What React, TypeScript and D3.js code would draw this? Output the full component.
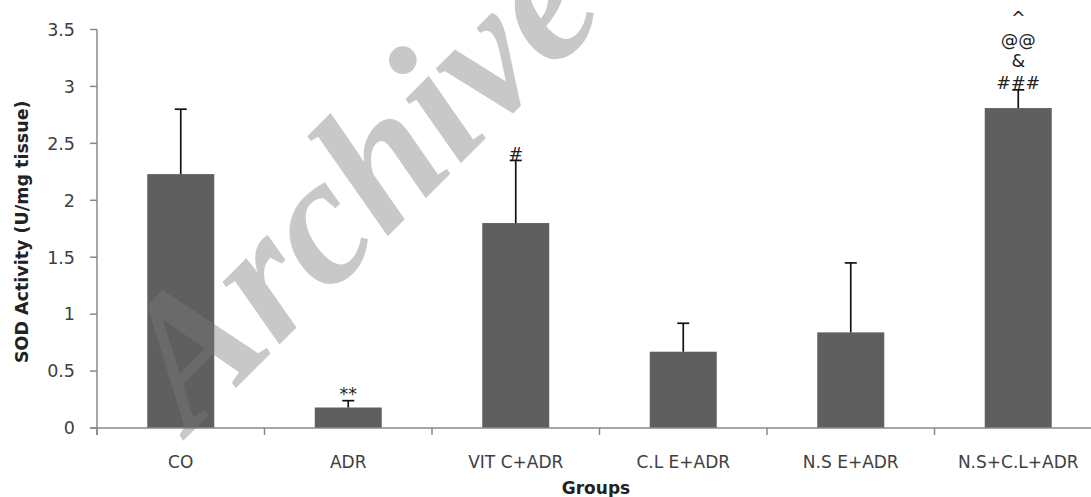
import React from "react";
import * as d3 from "d3";

// SOD activity per treatment group (mean and upper error value)
const groups = ["CO", "ADR", "VIT C+ADR", "C.L E+ADR", "N.S E+ADR", "N.S+C.L+ADR"];
const means = [2.23, 0.18, 1.8, 0.67, 0.84, 2.81];
const upperError = [2.8, 0.24, 2.35, 0.92, 1.45, 2.97];
// significance marks stacked above each error bar, listed bottom to top
const marks = [[], ["**"], ["#"], [], [], ["###", "&", "@@", "^"]];
const yTicks = [0, 0.5, 1, 1.5, 2, 2.5, 3, 3.5];

const W = 1091;
const H = 497;
const left = 97;
const right = 1102;
const top = 29.5;
const bottom = 428;

const FONT = "'DejaVu Sans', Verdana, sans-serif";

export default function App() {
  const x = d3.scaleBand<string>().domain(groups).range([left, right]).paddingInner(0.6).paddingOuter(0.3);
  const y = d3.scaleLinear().domain([0, 3.5]).range([bottom, top]);
  const step = x.step();
  const bw = x.bandwidth();
  const boundaries = d3.range(groups.length + 1).map((i) => left + i * step);

  return (
    <svg width={W} height={H} style={{ position: "absolute", left: 0, top: 0, background: "#fff" }}>
      {/* bars */}
      {groups.map((g, i) => (
        <rect key={g} x={x(g)} y={y(means[i])} width={bw} height={bottom - y(means[i])} fill="#5f5f5f" />
      ))}
      {/* error bars */}
      {groups.map((g, i) => {
        const cx = (x(g) as number) + bw / 2;
        return (
          <g key={g} stroke="#111" strokeWidth={1.7}>
            <line x1={cx} x2={cx} y1={y(means[i])} y2={y(upperError[i])} />
            <line x1={cx - 6} x2={cx + 6} y1={y(upperError[i])} y2={y(upperError[i])} />
          </g>
        );
      })}
      {/* significance marks */}
      {groups.map((g, i) => {
        const cx = (x(g) as number) + bw / 2;
        return marks[i].map((m, k) => (
          <text
            key={g + k}
            x={cx}
            y={y(upperError[i]) - 7 - k * 21.5}
            dy="0.35em"
            textAnchor="middle"
            fontFamily={FONT}
            fontSize={17.5}
            fill="#222"
          >
            {m}
          </text>
        ));
      })}
      {/* y axis */}
      <line x1={left} x2={left} y1={top} y2={bottom + 7} stroke="#888" strokeWidth={1.5} />
      {yTicks.map((t) => (
        <g key={t}>
          <line x1={left - 7} x2={left} y1={y(t)} y2={y(t)} stroke="#888" strokeWidth={1.5} />
          <text x={75} y={y(t)} dy="0.36em" textAnchor="end" fontFamily={FONT} fontSize={17.5} fill="#404040">
            {t}
          </text>
        </g>
      ))}
      {/* x axis */}
      <line x1={left - 7} x2={right} y1={bottom} y2={bottom} stroke="#888" strokeWidth={1.5} />
      {boundaries.map((bx, i) => (
        <line key={i} x1={bx} x2={bx} y1={bottom} y2={bottom + 7} stroke="#888" strokeWidth={1.5} />
      ))}
      {groups.map((g) => (
        <text
          key={g}
          x={(x(g) as number) + bw / 2}
          y={468}
          textAnchor="middle"
          fontFamily={FONT}
          fontSize={17}
          fill="#404040"
        >
          {g}
        </text>
      ))}
      {/* axis titles */}
      <text x={596} y={494} textAnchor="middle" fontFamily={FONT} fontWeight="bold" fontSize={17} fill="#222">
        Groups
      </text>
      <text
        transform={`translate(22, ${(top + bottom) / 2 + 3}) rotate(-90)`}
        dy="0.35em"
        textAnchor="middle"
        fontFamily={FONT}
        fontWeight="bold"
        fontSize={17.5}
        fill="#222"
      >
        SOD Activity (U/mg tissue)
      </text>
      {/* watermark */}
      <text
        transform="translate(190, 434) rotate(-45)"
        fontFamily="'Liberation Serif', 'Times New Roman', serif"
        fontWeight="bold"
        fontStyle="italic"
        fontSize={184}
        fill="#7a7a7a"
        fillOpacity={0.41}
      >
        Archive
      </text>
    </svg>
  );
}
